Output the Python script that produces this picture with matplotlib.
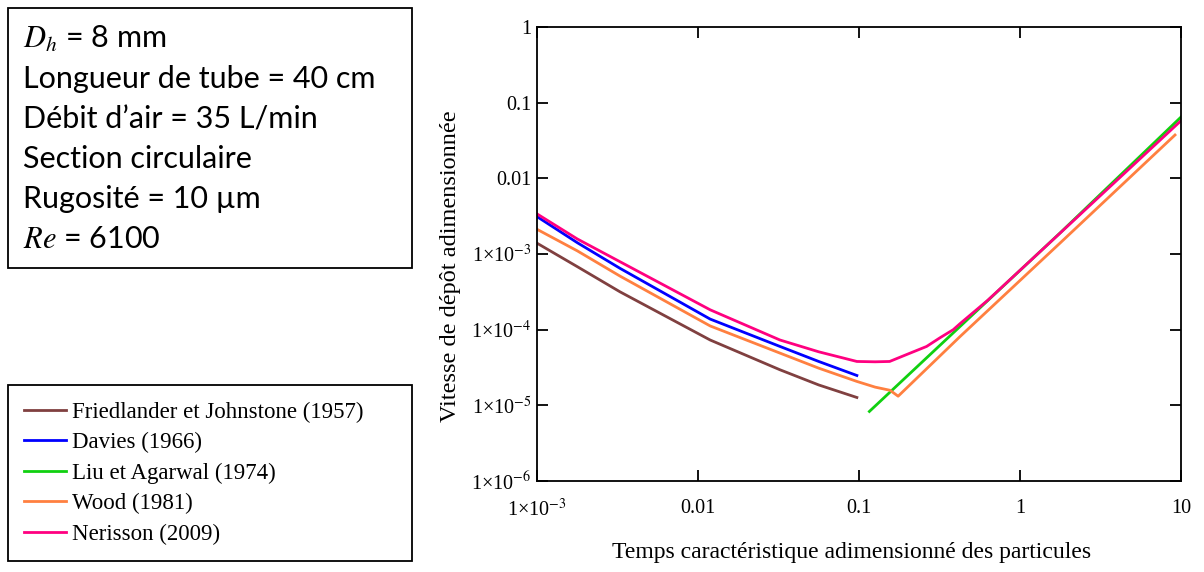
import matplotlib
matplotlib.use("Agg")
import matplotlib.pyplot as plt
from matplotlib.patches import Rectangle
from matplotlib.ticker import FixedLocator, FixedFormatter, NullLocator

plt.rcParams['font.family'] = ['Liberation Serif', 'DejaVu Serif']
plt.rcParams['mathtext.fontset'] = 'stix'

# values (log-log plot)
tau_fj = [0.001, 0.00178, 0.00328, 0.0119, 0.0323, 0.0562, 0.097]
v_fj = [1.39e-3, 6.8e-4, 3.16e-4, 7.3e-5, 2.95e-5, 1.86e-5, 1.27e-5]

tau_davies = [0.001, 0.00178, 0.00328, 0.0119, 0.0323, 0.0562, 0.097]
v_davies = [3.12e-3, 1.41e-3, 6.46e-4, 1.38e-4, 6.0e-5, 3.8e-5, 2.48e-5]

tau_liu = [0.116, 0.424, 1.77, 10]
v_liu = [8.3e-6, 1.1e-4, 1.89e-3, 0.0646]

tau_wood = [0.001, 0.00178, 0.00328, 0.0119, 0.0323, 0.0562, 0.097,
            0.126, 0.156, 0.175, 0.424, 1.77, 9.18]
v_wood = [2.12e-3, 1.10e-3, 5.1e-4, 1.12e-4, 4.9e-5, 3.1e-5, 2.07e-5,
          1.74e-5, 1.58e-5, 1.32e-5, 8.1e-5, 1.39e-3, 0.0374]

tau_ner = [0.001, 0.00178, 0.00328, 0.0119, 0.0323, 0.0562, 0.097,
           0.126, 0.155, 0.198, 0.263, 0.318, 0.385, 0.424, 0.631, 1.77, 10]
v_ner = [3.39e-3, 1.58e-3, 7.9e-4, 1.83e-4, 7.3e-5, 5.1e-5, 3.8e-5,
         3.76e-5, 3.8e-5, 4.7e-5, 6.0e-5, 7.8e-5, 1.0e-4, 1.2e-4, 2.45e-4, 1.88e-3, 0.0578]

series = [
    ('Friedlander et Johnstone (1957)', tau_fj, v_fj, '#804040'),
    ('Davies (1966)', tau_davies, v_davies, '#0000ff'),
    ('Liu et Agarwal (1974)', tau_liu, v_liu, '#10d010'),
    ('Wood (1981)', tau_wood, v_wood, '#ff8040'),
    ('Nerisson (2009)', tau_ner, v_ner, '#ff0080'),
]

x_ticks = [1e-3, 1e-2, 0.1, 1, 10]
x_labels = ['1×10$^{-3}$', '0.01', '0.1', '1', '10']
y_ticks = [1e-6, 1e-5, 1e-4, 1e-3, 1e-2, 0.1, 1]
y_labels = ['1×10$^{-6}$', '1×10$^{-5}$', '1×10$^{-4}$', '1×10$^{-3}$', '0.01', '0.1', '1']

box_lines = ['$D_h$ = 8 mm', 'Longueur de tube = 40 cm', 'Débit d’air = 35 L/min',
             'Section circulaire', 'Rugosité = 10 µm', '$Re$ = 6100']

W, H = 1204, 572
fig = plt.figure(figsize=(W / 100, H / 100), dpi=100)
ax = fig.add_axes([537 / W, 1 - 481 / H, (1181 - 537) / W, (481 - 27) / H])

handles = []
for name, t, v, c in series:
    ln, = ax.plot(t, v, color=c, lw=2.0, label=name)
    handles.append(ln)

ax.set_xscale('log')
ax.set_yscale('log')
ax.set_xlim(1e-3, 10)
ax.set_ylim(1e-6, 1)
ax.xaxis.set_major_locator(FixedLocator(x_ticks))
ax.xaxis.set_major_formatter(FixedFormatter(x_labels))
ax.yaxis.set_major_locator(FixedLocator(y_ticks))
ax.yaxis.set_major_formatter(FixedFormatter(y_labels))
ax.xaxis.set_minor_locator(NullLocator())
ax.yaxis.set_minor_locator(NullLocator())
ax.tick_params(direction='in', top=True, right=True, length=8, width=1.3, labelsize=14.5)
ax.tick_params(axis='x', pad=13)
ax.tick_params(axis='y', pad=4)
for s in ax.spines.values():
    s.set_linewidth(1.3)

ax.set_xlabel('Temps caractéristique adimensionné des particules', fontsize=17)
ax.set_ylabel('Vitesse de dépôt adimensionnée', fontsize=17.5)
ax.xaxis.set_label_coords(0.489, -0.135)
ax.yaxis.set_label_coords(-0.118, 0.474)

# info box
fig.add_artist(Rectangle((8 / W, 1 - 268 / H), 404 / W, 260 / H, transform=fig.transFigure,
                         fill=False, ec='black', lw=1.3))
for i, line in enumerate(box_lines):
    fig.text(23 / W, 1 - (48 + 40 * i) / H, line, fontsize=22, family='Lato',
             va='baseline', ha='left')

# legend box
leg = fig.legend(handles=handles, loc='upper left', bbox_to_anchor=(8 / W, 1 - 385 / H, 404 / W, 0),
                 mode='expand', borderaxespad=0, fontsize=16.5, frameon=True, fancybox=False,
                 edgecolor='black', framealpha=1, handlelength=1.8, handletextpad=0.26,
                 borderpad=0.72, labelspacing=0.41)
leg.get_frame().set_linewidth(1.3)

fig.savefig('out.png', dpi=100)
